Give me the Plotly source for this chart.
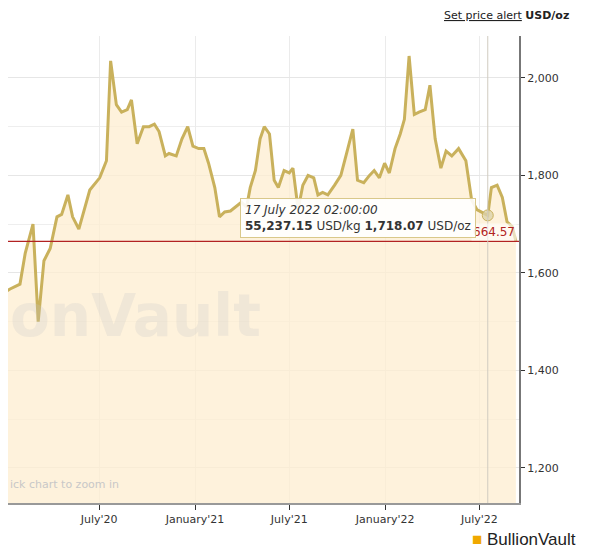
import plotly.graph_objects as go

dates = [
    "2019-12-24", "2020-01-12", "2020-01-31", "2020-02-10", "2020-02-25", "2020-03-06",
    "2020-03-17", "2020-03-29", "2020-04-11", "2020-04-20", "2020-05-02", "2020-05-11",
    "2020-05-23", "2020-06-03", "2020-06-13", "2020-07-02", "2020-07-15", "2020-07-23",
    "2020-08-03", "2020-08-13", "2020-08-24", "2020-09-01", "2020-09-12", "2020-09-24",
    "2020-10-05", "2020-10-15", "2020-10-24", "2020-11-05", "2020-11-12", "2020-11-26",
    "2020-12-07", "2020-12-18", "2020-12-28", "2021-01-08", "2021-01-18", "2021-01-27",
    "2021-02-08", "2021-02-17", "2021-02-27", "2021-03-10", "2021-03-22", "2021-03-31",
    "2021-04-10", "2021-04-17", "2021-04-27", "2021-05-06", "2021-05-14", "2021-05-24",
    "2021-06-02", "2021-06-10", "2021-06-21", "2021-07-01", "2021-07-08", "2021-07-18",
    "2021-07-27", "2021-08-06", "2021-08-17", "2021-08-25", "2021-09-03", "2021-09-13",
    "2021-09-26", "2021-10-08", "2021-10-19", "2021-10-31", "2021-11-09", "2021-11-21",
    "2021-12-02", "2021-12-11", "2021-12-21", "2021-12-31", "2022-01-09", "2022-01-20",
    "2022-01-30", "2022-02-07", "2022-02-16", "2022-02-26", "2022-03-07", "2022-03-19",
    "2022-03-28", "2022-04-07", "2022-04-18", "2022-04-28", "2022-05-09", "2022-05-22",
    "2022-06-05", "2022-06-16", "2022-06-26", "2022-07-17", "2022-07-24", "2022-08-04",
    "2022-08-14", "2022-08-23", "2022-09-02", "2022-09-09",
]
usd_oz = [
    1555, 1567, 1577, 1640, 1700, 1500, 1625, 1650, 1715, 1720, 1760, 1715,
    1690, 1735, 1770, 1795, 1830, 2035, 1945, 1930, 1935, 1955, 1865, 1900,
    1900, 1905, 1890, 1840, 1845, 1840, 1875, 1900, 1860, 1855, 1855, 1825,
    1775, 1715, 1725, 1727, 1737, 1745, 1735, 1775, 1810, 1875, 1900, 1885,
    1790, 1775, 1810, 1805, 1815, 1730, 1780, 1800, 1795, 1760, 1765, 1760,
    1780, 1800, 1845, 1895, 1790, 1785, 1800, 1810, 1795, 1825, 1805, 1855,
    1885, 1915, 2045, 1925, 1930, 1935, 1985, 1875, 1815, 1850, 1840, 1855,
    1830, 1750, 1730, 1718.07, 1775, 1780, 1755, 1705, 1695, 1665,
]
current_price = 1664.57
tick_vals = ["2020-01-01", "2020-07-01", "2021-01-01", "2021-07-01", "2022-01-01", "2022-07-01"]
tick_text = ["January'20", "July'20", "January'21", "July'21", "January'22", "July'22"]
hover_date = "2022-07-17"

fig = go.Figure()
fig.add_trace(go.Scatter(
    x=dates, y=usd_oz, mode="lines",
    line=dict(color="#c9b15c", width=3),
    fill="tozeroy", fillcolor="rgba(253,238,208,0.75)",
    hoverinfo="skip",
))
fig.add_trace(go.Scatter(
    x=[hover_date], y=[1718.07], mode="markers",
    marker=dict(size=11, color="rgba(220,210,170,0.8)", line=dict(color="#c9b15c", width=1)),
    hoverinfo="skip",
))

fig.add_hline(y=current_price, line=dict(color="#b22222", width=1.2))
fig.add_vline(x=hover_date, line=dict(color="#d0cbc0", width=1))

fig.add_annotation(x=1, xref="paper", y=current_price, yref="y", xanchor="right", yanchor="bottom",
                   text="664.57", showarrow=False, font=dict(color="#b22222", size=12),
                   bgcolor="rgba(255,255,255,0.6)", xshift=-2)
fig.add_annotation(x=hover_date, y=1718.07, xanchor="right", yanchor="middle", xshift=-12, yshift=-3,
                   text="<i>17 July 2022 02:00:00</i><br><b>55,237.15</b> USD/kg <b>1,718.07</b> USD/oz",
                   align="left", showarrow=False, font=dict(color="#333333", size=12),
                   bgcolor="rgba(255,255,255,0.9)", bordercolor="#d9c88a", borderwidth=1, borderpad=4)
fig.add_annotation(x=0, xref="paper", y=0.4, yref="paper", xanchor="left", yanchor="middle",
                   text="<b>onVault</b>", showarrow=False,
                   font=dict(size=58, color="rgba(200,200,200,0.25)", family="DejaVu Sans"))
fig.add_annotation(x=0, xref="paper", y=0.04, yref="paper", xanchor="left", yanchor="middle",
                   text="ick chart to zoom in", showarrow=False, font=dict(size=11, color="#c8c8c8"))
fig.add_annotation(x=1, xref="paper", y=1, yref="paper", xanchor="right", yanchor="bottom", yshift=12,
                   xshift=52, text="<u>Set price alert</u> <b>USD/oz</b>", showarrow=False,
                   font=dict(size=11, color="#222"))
fig.add_annotation(x=1, xref="paper", y=0, yref="paper", xanchor="right", yanchor="top", yshift=-25,
                   xshift=59, text="<span style='color:#f0a800'>■</span> BullionVault", showarrow=False,
                   font=dict(size=17, color="#222", family="Liberation Sans, Arial"))

fig.update_layout(
    width=589, height=554,
    margin=dict(l=0, r=78, t=28, b=59),
    paper_bgcolor="white", plot_bgcolor="white",
    showlegend=False,
    font=dict(family="Verdana, DejaVu Sans", size=11, color="#333"),
    xaxis=dict(range=["2020-01-08", "2022-09-15"], tickvals=tick_vals, ticktext=tick_text,
               ticks="outside", ticklen=5, tickcolor="#333", showgrid=True, gridcolor="#ebebeb",
               showline=True, linecolor="#999", linewidth=2, tickfont=dict(size=11)),
    yaxis=dict(side="right", range=[1128, 2086], tickvals=[1200, 1400, 1600, 1800, 2000],
               tickformat=",", ticks="outside", ticklen=4, tickcolor="#333", showgrid=True,
               gridcolor="#e6e6e6", showline=True, linecolor="#777", linewidth=2,
               minor=dict(dtick=100, showgrid=True, gridcolor="#eeeeee")),
)

fig.write_html("out.html")
